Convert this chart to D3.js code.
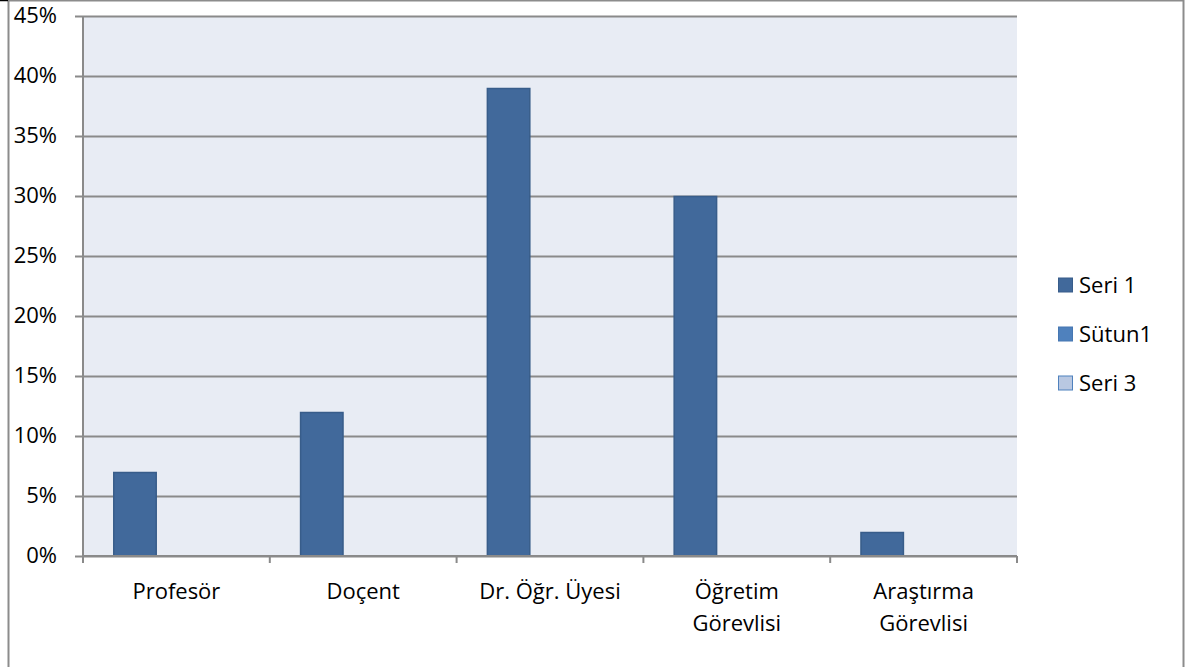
<!DOCTYPE html>
<html><head><meta charset="utf-8">
<script src="https://cdn.jsdelivr.net/npm/d3@7"></script>
<style>body{margin:0;background:#fff;}svg{display:block;font-family:"Open Sans",sans-serif;}</style>
</head><body>
<svg id="c" width="1186" height="667"></svg>
<script>
const categories = ["Profesör","Doçent","Dr. Öğr. Üyesi","Öğretim\nGörevlisi","Araştırma\nGörevlisi"];
const seriesNames = ["Seri 1","Sütun1","Seri 3"];
const seri1 = [0.07,0.12,0.39,0.30,0.02];
const sutun1 = [null,null,null,null,null];
const seri3 = [null,null,null,null,null];
const yTicks = [0,0.05,0.10,0.15,0.20,0.25,0.30,0.35,0.40,0.45];
const seriesColors = ["#41699b","#4f81bd","#b9c8e2"];
const seriesStroke = ["#385d8a","#4677b2","#4f81bd"];
const FONT = "'Open Sans', sans-serif";
const FS = 22;

const svg = d3.select("#c");
// outer frame
svg.append("rect").attr("x",8.5).attr("y",0.5).attr("width",1175).attr("height",700)
  .attr("fill","#fff").attr("stroke","#8c8c8c").attr("stroke-width",2);
svg.append("line").attr("x1",0).attr("x2",8).attr("y1",0.5).attr("y2",0.5).attr("stroke","#000").attr("stroke-width",1.5);

const L=83, R=1017, T=16, B=556;
const x = d3.scaleBand().domain(categories).range([L,R]).paddingInner(0).paddingOuter(0);
const y = d3.scaleLinear().domain([0,0.45]).range([B,T]);
const x1 = d3.scaleBand().domain(seriesNames)
  .range([0,x.bandwidth()]).paddingInner(0).paddingOuter(0.65).align(0.536);

svg.append("rect").attr("x",L).attr("y",T).attr("width",R-L).attr("height",B-T).attr("fill","#e8ecf4");

// gridlines + y axis
const yAxis = d3.axisLeft(y).tickValues(yTicks).tickFormat(d3.format(".0%")).tickSize(8).tickPadding(18);
const gy = svg.append("g").attr("transform",`translate(${L},0)`).call(yAxis)
  .attr("font-family",FONT).attr("font-size",FS);
gy.select(".domain").remove();
gy.selectAll(".tick line").attr("stroke","#8a8a8a").attr("stroke-width",2).attr("x2",R-L).attr("x1",-8);
gy.selectAll(".tick text").attr("fill","#000").attr("dy","0.3em").attr("x",-26);
svg.append("line").attr("x1",L).attr("x2",L).attr("y1",T).attr("y2",B+7).attr("stroke","#8a8a8a").attr("stroke-width",2);

// bars
const allSeries = [seri1,sutun1,seri3];
allSeries.forEach((vals,si)=>{
  svg.append("g").selectAll("rect").data(vals.map((v,i)=>({v,c:categories[i]})).filter(d=>d.v!=null))
    .join("rect")
    .attr("x",d=>x(d.c)+x1(seriesNames[si])+0.5)
    .attr("width",x1.bandwidth()-1)
    .attr("y",d=>y(d.v)+0.5)
    .attr("height",d=>y(0)-y(d.v)-0.5)
    .attr("fill",seriesColors[si]).attr("stroke",seriesStroke[si]).attr("stroke-width",1.5);
});

// x axis
const gx = svg.append("g").attr("transform",`translate(0,${B})`).attr("font-family",FONT).attr("font-size",FS);
gx.append("line").attr("x1",L).attr("x2",R).attr("stroke","#8a8a8a").attr("stroke-width",2);
const bounds = categories.map(c=>x(c)).concat([R]);
gx.selectAll("line.t").data(bounds).join("line").attr("class","t")
  .attr("x1",d=>d).attr("x2",d=>d).attr("y1",0).attr("y2",7).attr("stroke","#8a8a8a").attr("stroke-width",2);
gx.selectAll("text").data(categories).join("text")
  .attr("x",d=>x(d)+x.bandwidth()/2).attr("y",43).attr("text-anchor","middle")
  .attr("fill","#000")
  .each(function(d){
    const lines=d.split("\n");
    d3.select(this).selectAll("tspan").data(lines).join("tspan")
      .attr("x",x(d)+x.bandwidth()/2).attr("dy",(l,i)=>i===0?0:32).text(l=>l);
  });

// legend
const lg = svg.append("g").attr("transform","translate(1058,285)").attr("font-family",FONT).attr("font-size",FS);
seriesNames.forEach((n,i)=>{
  const g = lg.append("g").attr("transform",`translate(0,${i*49})`);
  g.append("rect").attr("x",0.5).attr("y",-7).attr("width",14).attr("height",14)
    .attr("fill",seriesColors[i]).attr("stroke",seriesStroke[i]).attr("stroke-width",1);
  g.append("text").attr("x",21).attr("y",0).attr("dy","0.35em").attr("fill","#000").text(n);
});
</script>
</body></html>
